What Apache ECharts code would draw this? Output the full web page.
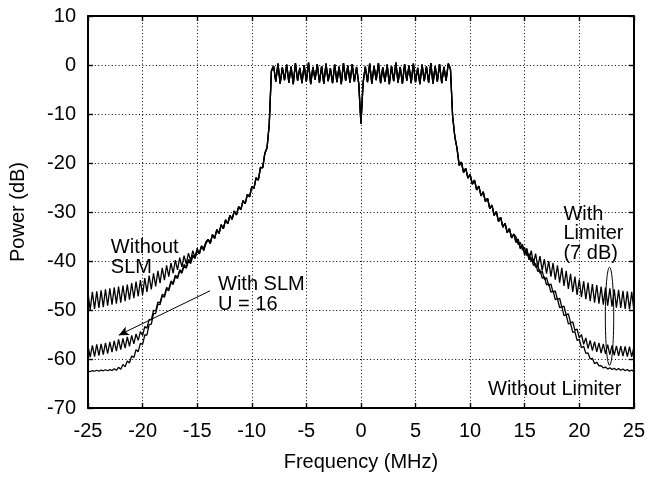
<!DOCTYPE html>
<html>
<head>
<meta charset="utf-8">
<script src="https://cdn.jsdelivr.net/npm/echarts@6/dist/echarts.min.js"></script>
<style>html,body{margin:0;padding:0;background:#fff}#c{width:648px;height:477px}</style>
</head>
<body>
<div id="c"></div>
<script>
// Frequency sampling grid (MHz)
const FREQ_START = -25;
const FREQ_STEP = 0.2;
const xTicks = { min: -25, max: 25, interval: 5 };
const yTicks = { min: -70, max: 10, interval: 10 };

// Left tails: f = -25.0 ... -14.2
const noSlmLeft = [
-46.5,-50.0,-46.3,-49.8,-46.2,-49.6,-46.0,-49.4,-45.8,-49.1,
-45.6,-48.9,-45.4,-48.7,-45.2,-48.5,-45.0,-48.2,-44.8,-47.9,
-44.5,-47.6,-44.2,-47.2,-43.9,-46.9,-43.5,-46.3,-43.0,-45.8,
-42.5,-45.2,-42.0,-44.5,-41.4,-43.9,-40.9,-43.2,-40.4,-42.5,
-39.8,-41.8,-39.3,-41.2,-38.9,-40.6,-38.4,-39.9,-37.9,-39.3,
-37.4,-38.6,-36.9,-37.9,-36.5];
const slmLeft = [
-57.3,-59.6,-57.2,-59.5,-57.0,-59.3,-56.9,-59.1,-56.7,-58.9,
-56.5,-58.6,-56.3,-58.4,-56.0,-58.1,-55.8,-57.8,-55.5,-57.4,
-55.2,-56.9,-54.9,-56.2,-54.4,-55.2,-53.4,-53.7,-51.9,-52.0,
-50.1,-50.2,-48.4,-48.5,-46.8,-47.0,-45.4,-45.7,-44.1,-44.5,
-42.9,-43.3,-41.8,-42.2,-40.7,-41.2,-39.7,-40.2,-38.8,-39.3,
-37.8,-38.3,-36.9,-37.4,-36.1];
const noLimLeft = [
-62.4,-62.6,-62.35,-62.5,-62.3,-62.5,-62.25,-62.4,-62.2,-62.4,
-62.15,-62.35,-62.0,-62.3,-61.7,-62.1,-61.1,-61.6,-60.4,-60.8,
-59.4,-59.7,-58.1,-58.5,-56.8,-57.0,-55.1,-55.1,-53.0,-52.9,
-50.8,-50.7,-48.8,-48.9,-47.1,-47.4,-45.7,-46.1,-44.4,-44.8,
-43.2,-43.6,-42.0,-42.5,-41.0,-41.5,-40.0,-40.5,-39.0,-39.5,
-38.0,-38.5,-37.05,-37.6,-36.15];

// Shared core: f = -14.0 ... 14.0
const core = [
-35.6,-36.4,-34.6,-35.4,-33.6,-34.4,-32.6,-33.4,-31.6,-32.4,
-30.7,-31.5,-29.8,-30.6,-28.9,-29.5,-27.7,-28.3,-26.4,-26.9,
-24.8,-25.2,-23.0,-23.5,-20.9,-21.0,-18.0,-16.9,-12.2,-1.2,
-0.2,-3.4,0.3,-3.8,-0.5,-3.1,0.1,-3.6,-0.3,-3.9,
0.4,-3.2,-0.6,-3.7,0.0,-3.4,0.5,-3.9,-0.4,-3.0,
0.2,-3.6,-0.2,-3.8,0.3,-3.3,-0.7,-3.7,0.1,-3.5,
-0.3,-3.9,0.4,-3.2,-0.1,-3.6,0.2,-3.4,-0.4,-3.8,
-12.0,-3.6,-0.3,-3.5,0.3,-3.8,-0.2,-3.1,0.4,-3.7,
-0.5,-3.4,0.1,-3.9,-0.2,-3.3,0.5,-3.6,-0.4,-3.8,
0.2,-3.2,-0.1,-3.7,0.3,-3.5,-0.6,-3.9,0.1,-3.3,
-0.3,-3.6,0.4,-3.8,-0.2,-3.4,0.2,-3.7,-0.4,-3.2,
0.3,-0.8,
-10.5,-14.6,-17.0,-20.5,-19.8,-21.9,-21.1,-23.1,-22.3,-24.3,
-23.5,-25.5,-24.7,-26.7,-25.9,-27.9,-27.2,-29.3,-28.6,-30.7,
-29.9,-31.9,-31.1,-33.1,-32.3,-34.2,-33.4,-35.3,-34.5];

// Right tails: f = 14.2 ... 25.0
const noSlmRight = [
-36.2,-35.5,-37.5,-36.6,-38.9,-37.4,-39.7,-37.9,-40.5,-38.5,
-41.2,-39.0,-41.9,-39.6,-42.6,-40.0,-43.2,-40.4,-43.8,-40.9,
-44.4,-41.4,-45.1,-42.0,-45.7,-42.6,-46.3,-43.2,-46.9,-43.8,
-47.4,-44.1,-47.8,-44.4,-48.2,-44.7,-48.5,-44.9,-48.7,-45.2,
-48.9,-45.4,-49.1,-45.6,-49.3,-45.8,-49.5,-45.9,-49.6,-46.1,
-49.8,-46.2,-49.9,-46.3,-50.0];
const slmRight = [
-35.1,-36.65,-36.2,-37.75,-37.3,-38.9,-38.5,-40.1,-39.7,-41.3,
-40.9,-42.5,-42.1,-43.75,-43.4,-45.05,-44.7,-46.4,-46.1,-47.85,
-47.6,-49.4,-49.2,-51.0,-50.8,-52.6,-52.4,-54.15,-53.9,-55.7,
-55.0,-57.0,-55.7,-57.85,-56.2,-58.3,-56.45,-58.55,-56.7,-58.8,
-56.9,-58.95,-57.05,-59.1,-57.2,-59.25,-57.3,-59.35,-57.4,-59.4,
-57.45,-59.5,-57.5,-59.55,-57.6];
const noLimRight = [
-36.2,-35.8,-37.35,-36.9,-38.5,-38.1,-39.7,-39.3,-40.9,-40.5,
-42.15,-41.8,-43.5,-43.2,-44.9,-44.6,-46.35,-46.1,-47.9,-47.7,
-49.5,-49.3,-51.15,-51.0,-52.85,-52.7,-54.55,-54.4,-56.2,-56.0,
-57.7,-57.4,-58.85,-58.75,-60.0,-59.85,-60.95,-60.65,-61.4,-61.35,
-61.8,-61.65,-62.05,-61.8,-62.15,-61.9,-62.25,-61.95,-62.3,-62.05,
-62.4,-62.15,-62.5,-62.25,-62.6];

// Annotations (data coordinates)
const textNotes = [
  { text: 'Without', f: -22.91, p: -37.2 },
  { text: 'SLM', f: -22.91, p: -41.4 },
  { text: 'With SLM', f: -13.09, p: -44.7 },
  { text: 'U = 16', f: -13.09, p: -48.8 },
  { text: 'With', f: 18.55, p: -30.5 },
  { text: 'Limiter', f: 18.55, p: -34.3 },
  { text: '(7 dB)', f: 18.55, p: -38.5 },
  { text: 'Without Limiter', f: 11.64, p: -66.2 }
];
const arrowFrom = [-13.82, -46.08];
const arrowTo = [-22.18, -55.13];
const ellipseCenter = [22.77, -51.27];

function build(left, right) {
  const vals = left.concat(core, right);
  return vals.map((v, i) => [+(FREQ_START + i * FREQ_STEP).toFixed(2), v]);
}

const FONT = '"Liberation Sans", Arial, Helvetica, sans-serif';
const FS = 20;

const chart = echarts.init(document.getElementById('c'), null, { renderer: 'canvas' });
const lineStyle = { color: '#000', width: 1.3 };
const axisLineStyle = { color: '#000', width: 2 };
const grid = { left: 87, right: 11, top: 16, bottom: 63 };

const baseX = {
  type: 'value', min: xTicks.min, max: xTicks.max, interval: xTicks.interval,
  axisLine: { show: true, onZero: false, lineStyle: axisLineStyle },
  axisTick: { show: true, inside: true, length: 5, lineStyle: { color: '#000', width: 1.4 } }
};
const baseY = {
  type: 'value', min: yTicks.min, max: yTicks.max, interval: yTicks.interval,
  axisLine: { show: true, onZero: false, lineStyle: axisLineStyle },
  axisTick: { show: true, inside: true, length: 5, lineStyle: { color: '#000', width: 1.4 } }
};
const splitLine = { show: true, lineStyle: { color: '#000', width: 1, type: [1, 2.4] } };

chart.setOption({
  animation: false,
  backgroundColor: '#fff',
  grid: grid,
  xAxis: [
    Object.assign({}, baseX, {
      position: 'bottom',
      name: 'Frequency (MHz)', nameLocation: 'middle', nameGap: 44,
      nameTextStyle: { color: '#000', fontSize: FS, fontFamily: FONT },
      axisLabel: { color: '#000', fontSize: FS, fontFamily: FONT, margin: 13 },
      splitLine: splitLine
    }),
    Object.assign({}, baseX, { position: 'top', axisLabel: { show: false }, splitLine: { show: false } })
  ],
  yAxis: [
    Object.assign({}, baseY, {
      position: 'left',
      name: 'Power (dB)', nameLocation: 'middle', nameGap: 60,
      nameTextStyle: { color: '#000', fontSize: FS, fontFamily: FONT },
      axisLabel: { color: '#000', fontSize: FS, fontFamily: FONT, margin: 12 },
      splitLine: splitLine
    }),
    Object.assign({}, baseY, { position: 'right', axisLabel: { show: false }, splitLine: { show: false } })
  ],
  series: [
    { name: 'Without SLM', type: 'line', data: build(noSlmLeft, noSlmRight), showSymbol: false, symbol: 'none', lineStyle: lineStyle, silent: true },
    { name: 'With SLM U=16', type: 'line', data: build(slmLeft, slmRight), showSymbol: false, symbol: 'none', lineStyle: lineStyle, silent: true,
      markLine: {
        silent: true, symbol: ['none', 'arrow'], symbolSize: [7, 10],
        lineStyle: { color: '#000', width: 1, type: 'solid' }, label: { show: false },
        data: [[{ coord: arrowFrom }, { coord: arrowTo }]]
      }
    },
    { name: 'Without Limiter', type: 'line', data: build(noLimLeft, noLimRight), showSymbol: false, symbol: 'none', lineStyle: lineStyle, silent: true }
  ]
});

const graphics = textNotes.map(n => {
  const pt = chart.convertToPixel({ xAxisIndex: 0, yAxisIndex: 0 }, [n.f, n.p]);
  return { type: 'text', silent: true, x: pt[0], y: pt[1],
    style: { text: n.text, fill: '#000', font: FS + 'px ' + FONT, align: 'left', verticalAlign: 'middle' } };
});
const ec = chart.convertToPixel({ xAxisIndex: 0, yAxisIndex: 0 }, ellipseCenter);
graphics.push({ type: 'ellipse', silent: true, shape: { cx: ec[0], cy: ec[1], rx: 4.2, ry: 49 },
  style: { fill: 'none', stroke: '#000', lineWidth: 1 } });
chart.setOption({ graphic: graphics });
</script>
</body>
</html>
